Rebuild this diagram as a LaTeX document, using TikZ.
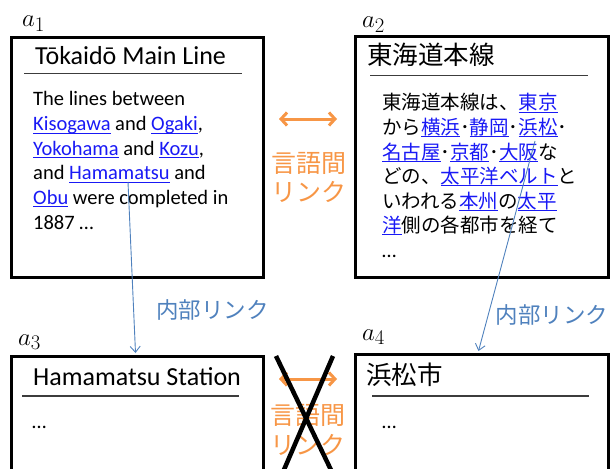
\documentclass[tikz,border=0pt]{standalone}
\usepackage{fontspec}
\setmainfont{Carlito}
\newfontfamily\jp{Noto Sans CJK JP}
\usetikzlibrary{arrows.meta}
\definecolor{linkblue}{RGB}{25,25,245}
\definecolor{arrowblue}{RGB}{79,129,189}
\definecolor{lorange}{RGB}{247,150,70}
\definecolor{rulegray}{RGB}{60,60,60}
\newcommand\lk[1]{{\color{linkblue}\setbox0\hbox{#1}\rlap{\rule[-2.8pt]{\wd0}{0.9pt}}\box0}}
\begin{document}
\begin{tikzpicture}[x=1pt,y=-1pt,
  box/.style={draw=black, line width=2.6pt, anchor=north west, inner sep=0pt},
  txt/.style={anchor=base west, inner sep=0pt},
  entitle/.style={txt, font=\fontsize{26}{30}\selectfont},
  jptitle/.style={txt, font=\jp\fontsize{25.5}{30}\selectfont},
  enbody/.style={txt, font=\fontsize{20.5}{24}\selectfont},
  jpbody/.style={txt, font=\jp\fontsize{19.5}{24}\selectfont},
  alabel/.style={txt, font=\fontsize{24.88}{30}\selectfont},
  hrule/.style={draw=rulegray, line width=1.4pt},
  intlink/.style={draw=arrowblue, line width=0.9pt, -{Straight Barb[length=6pt,width=10pt]}},
  intlabel/.style={inner sep=0pt, text=arrowblue, font=\jp\fontsize{22.5}{26}\selectfont},
  langlink/.style={draw=lorange, line width=3pt, {Straight Barb[length=6pt,width=13pt]}-{Straight Barb[length=6pt,width=13pt]}},
  langlabel/.style={inner sep=0pt, text=lorange, font=\jp\fontsize{25}{30}\selectfont},
  cross/.style={draw=black, line width=4.5pt}]
\useasboundingbox (0,0) rectangle (612,468);
\clip (0,0) rectangle (612,468);

% boxes
\node[box, minimum width=252pt, minimum height=240pt] (A1) at (10,36) {};
\node[box, minimum width=253pt, minimum height=241pt] (A2) at (354,35) {};
\node[box, minimum width=252pt, minimum height=140pt] (A3) at (10,355) {};
\node[box, minimum width=253pt, minimum height=140pt] (A4) at (354,353) {};

% labels a_i
\node[alabel] (L1) at (22,27) {$a_1$};
\node[alabel] (L2) at (362,28) {$a_2$};
\node[alabel] (L3) at (18,345) {$a_3$};
\node[alabel] (L4) at (362,340) {$a_4$};

% titles and rules
\node[entitle] (T1) at (35,65) {Tōkaidō Main Line};
\draw[hrule] (24,73.5) -- (242,73.5);
\node[jptitle] (T2) at (367,65) {東海道本線};
\draw[hrule] (370,75.5) -- (588,75.5);
\node[entitle] (T3) at (33,385) {Hamamatsu Station};
\draw[hrule] (22,396) -- (239,396);
\node[jptitle] (T4) at (366,384) {浜松市};
\draw[hrule] (372,396) -- (589,396);

% a1 body
\node[enbody] (e1) at (33,106) {The lines between};
\node[enbody] (e2) at (33,130.6) {\lk{Kisogawa} and \lk{Ogaki},};
\node[enbody] (e3) at (33,155.2) {\lk{Yokohama} and \lk{Kozu},};
\node[enbody] (e4) at (33,179.8) {and \lk{Hamamatsu} and};
\node[enbody] (e5) at (33,204.4) {\lk{Obu} were completed in};
\node[enbody] (e6) at (33,229) {1887 …};

% a2 body
\node[jpbody] (j1) at (382,110) {東海道本線は、\lk{東京}};
\node[jpbody] (j2) at (382,134.5) {から\lk{横浜}･\lk{静岡}･\lk{浜松}･};
\node[jpbody] (j3) at (382,159) {\lk{名古屋}･\lk{京都}･\lk{大阪}な};
\node[jpbody] (j4) at (382,183.5) {どの、\lk{太平洋ベルト}と};
\node[jpbody] (j5) at (382,208) {いわれる\lk{本州}の\lk{太平}};
\node[jpbody] (j6) at (382,232.5) {\lk{洋}側の各都市を経て};
\node[enbody] (j7) at (382,257) {…};

% a3, a4 bodies
\node[enbody] (b3) at (32,428) {…};
\node[enbody] (b4) at (382,428) {…};

% internal links
\coordinate (s1) at (128,182);
\coordinate (t1) at (135.5,353);
\draw[intlink] (s1) -- (t1);
\node[intlabel] (I1) at (212.5,310) {内部リンク};
\coordinate (s2) at (535,141);
\coordinate (t2) at (478.5,351);
\draw[intlink] (s2) -- (t2);
\node[intlabel] (I2) at (552,315) {内部リンク};

% language links
\coordinate (o1) at (279,119);
\coordinate (o2) at (337,119);
\draw[langlink] (o1) -- (o2);
\node[langlabel] (G1) at (309,163) {言語間};
\node[langlabel] (G2) at (309,192) {リンク};

\coordinate (o3) at (279,379);
\coordinate (o4) at (337,379);
\draw[langlink] (o3) -- (o4);
\node[langlabel] (G3) at (308,415) {言語間};
\node[langlabel] (G4) at (308,445) {リンク};

% cross
\coordinate (x1) at (276,356);
\coordinate (x2) at (332,472);
\coordinate (x3) at (333,356);
\coordinate (x4) at (283,472);
\draw[cross] (x1) -- (x2);
\draw[cross] (x3) -- (x4);
\end{tikzpicture}
\end{document}
